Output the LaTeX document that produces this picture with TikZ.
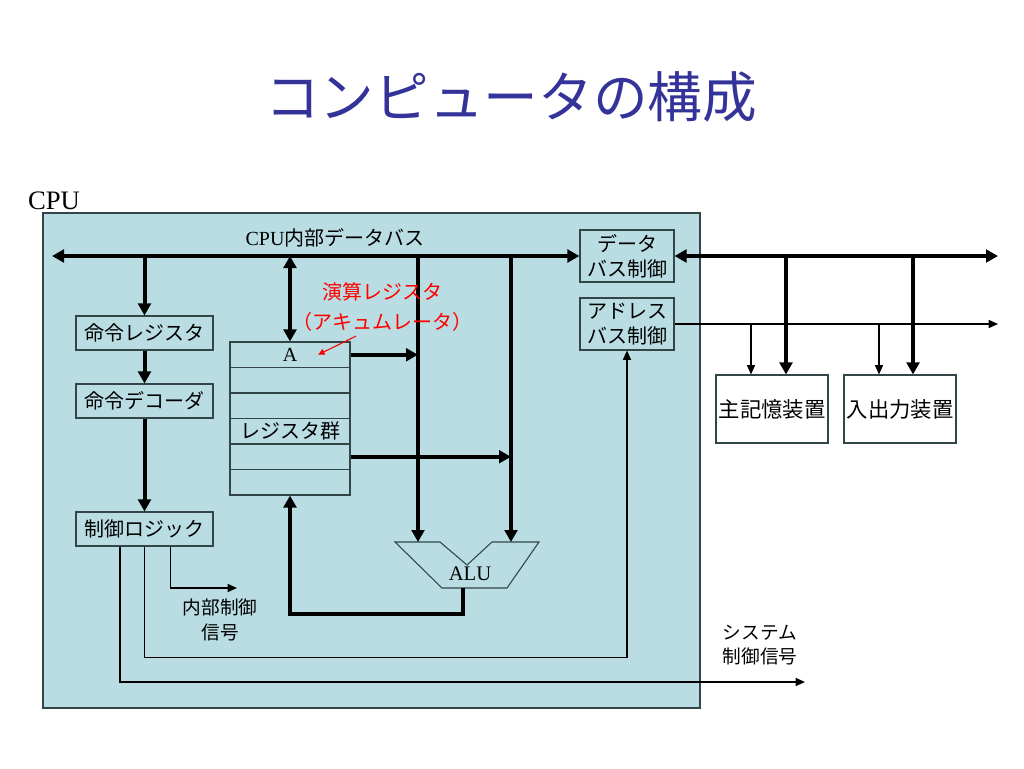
\documentclass[tikz,border=0pt]{standalone}
\usepackage{fontspec}
\setmainfont{Liberation Serif}
\newfontfamily\jp{Noto Sans CJK JP}
\usetikzlibrary{arrows.meta}
\definecolor{cpufill}{RGB}{185,221,226}
\definecolor{titleblue}{RGB}{51,51,153}
\definecolor{boxline}{RGB}{50,70,72}

\begin{document}
\begin{tikzpicture}[x=0.75pt,y=-0.75pt,
	box/.style={draw=boxline,line width=0.8pt,fill=cpufill,inner sep=0pt,align=center,
		font=\jp\fontsize{15pt}{19pt}\selectfont},
	reg/.style={box,minimum width=90pt,minimum height=19.1pt},
	bus/.style={line width=3pt,>={Triangle[length=9pt,width=9.5pt]}},
	sig/.style={line width=1.1pt,>={Triangle[length=7pt,width=6pt]}},
	jtext/.style={font=\jp\fontsize{14pt}{18.5pt}\selectfont,align=center}]
	\useasboundingbox (0,0) rectangle (1024,768);

	\node[font=\jp\fontsize{41pt}{41pt}\selectfont,text=titleblue] (title) at (511,97) {コンピュータの構成};

	% CPU
	\filldraw[fill=cpufill,draw=boxline,line width=0.8pt] (43,213) rectangle (700,708);
	\node[font=\fontsize{20pt}{20pt}\selectfont] (cpulbl) at (54,201) {CPU};

	\node[box,minimum width=102.75pt,minimum height=25.5pt] (ireg) at (144.5,333) {命令レジスタ};
	\node[box,minimum width=102.75pt,minimum height=25.5pt] (idec) at (144.5,401) {命令デコーダ};
	\node[box,minimum width=102.75pt,minimum height=25.5pt] (ctrl) at (144.5,529) {制御ロジック};
	\node[box,minimum width=70.5pt,minimum height=39pt] (dbc) at (627,256) {データ\\バス制御};
	\node[box,minimum width=70.5pt,minimum height=39pt] (abc) at (627,324) {アドレス\\バス制御};

	\foreach \i/\t in {1/{\rmfamily A},2/,3/,4/レジスタ群,5/,6/}
		\node[reg] (r\i) at (290,{329.25+25.5*\i}) {\t};

	% ALU
	\filldraw[fill=cpufill,draw=boxline,line width=0.8pt] (395,542) -- (440,542) -- (467,565) -- (492,542)
		-- (539,542) -- (507,588) -- (442,588) -- cycle;
	\node[font=\fontsize{15.5pt}{15.5pt}\selectfont] (alu) at (470,574) {ALU};
	\coordinate (aluA) at (418,542);
	\coordinate (aluB) at (511,542);
	\coordinate (aluOut) at (463,588);
	\coordinate (loopR) at (463,614);

	% internal bus
	\coordinate (busL) at (52,256);
	\draw[bus,<->] (busL) -- (dbc.west);
	\node[jtext,font=\jp\fontsize{15pt}{19pt}\selectfont] (buslbl) at (335,238) {{\rmfamily CPU}内部データバス};
	\draw[bus,->] (ireg.north |- busL) -- (ireg.north);
	\draw[bus,->] (ireg) -- (idec);
	\draw[bus,->] (idec) -- (ctrl);
	\draw[bus,<->] (r1.north |- busL) -- (r1.north);
	\draw[bus,->] (aluA |- busL) -- (aluA);
	\draw[bus,->] (aluB |- busL) -- (aluB);
	\draw[bus,->] (r1.east) -- (r1.east -| aluA);
	\draw[bus,->] (r5.east) -- (r5.east -| aluB);
	\draw[bus,->] (aluOut) -- (loopR) -| (r6.south);

	\node[jtext,text=red,font=\jp\fontsize{15pt}{22.5pt}\selectfont] (acc) at (382,307) {演算レジスタ\\（アキュムレータ）};
	\draw[red,line width=0.8pt,-{Triangle[length=5pt,width=4.5pt]}] ([xshift=-19.5pt]acc.south) -- ([xshift=21pt]r1.center);

	% control signals
	\coordinate (intsig) at (237,588);
	\coordinate (sysout) at (805,682);
	\draw[sig,->] ([xshift=19.5pt]ctrl.south) |- (intsig);
	\draw[sig,->] (ctrl.south) -- ++(0,111) -| (abc.south);
	\draw[sig,->] ([xshift=-18.4pt]ctrl.south) |- (sysout);
	\node[jtext] (intlbl) at (220,620) {内部制御\\信号};
	\node[jtext] (syslbl) at (760,645) {システム\\制御信号};

	% outside
	\node[box,fill=white,minimum width=84pt,minimum height=51pt,font=\jp\fontsize{16pt}{19pt}\selectfont] (mem) at (772,409) {主記憶装置};
	\node[box,fill=white,minimum width=84pt,minimum height=51pt,font=\jp\fontsize{16pt}{19pt}\selectfont] (io) at (900,409) {入出力装置};
	\coordinate (dataR) at (998,256);
	\coordinate (addrR) at (998,324);
	\draw[bus,<->] (dbc.east) -- (dataR);
	\draw[sig,->] (abc.east) -- (addrR);
	\draw[sig,->] ([xshift=-15.75pt]mem.north |- addrR) -- ([xshift=-15.75pt]mem.north);
	\draw[bus,->] ([xshift=10.5pt]mem.north |- dataR) -- ([xshift=10.5pt]mem.north);
	\draw[sig,->] ([xshift=-15.75pt]io.north |- addrR) -- ([xshift=-15.75pt]io.north);
	\draw[bus,->] ([xshift=9.75pt]io.north |- dataR) -- ([xshift=9.75pt]io.north);
\end{tikzpicture}
\end{document}
